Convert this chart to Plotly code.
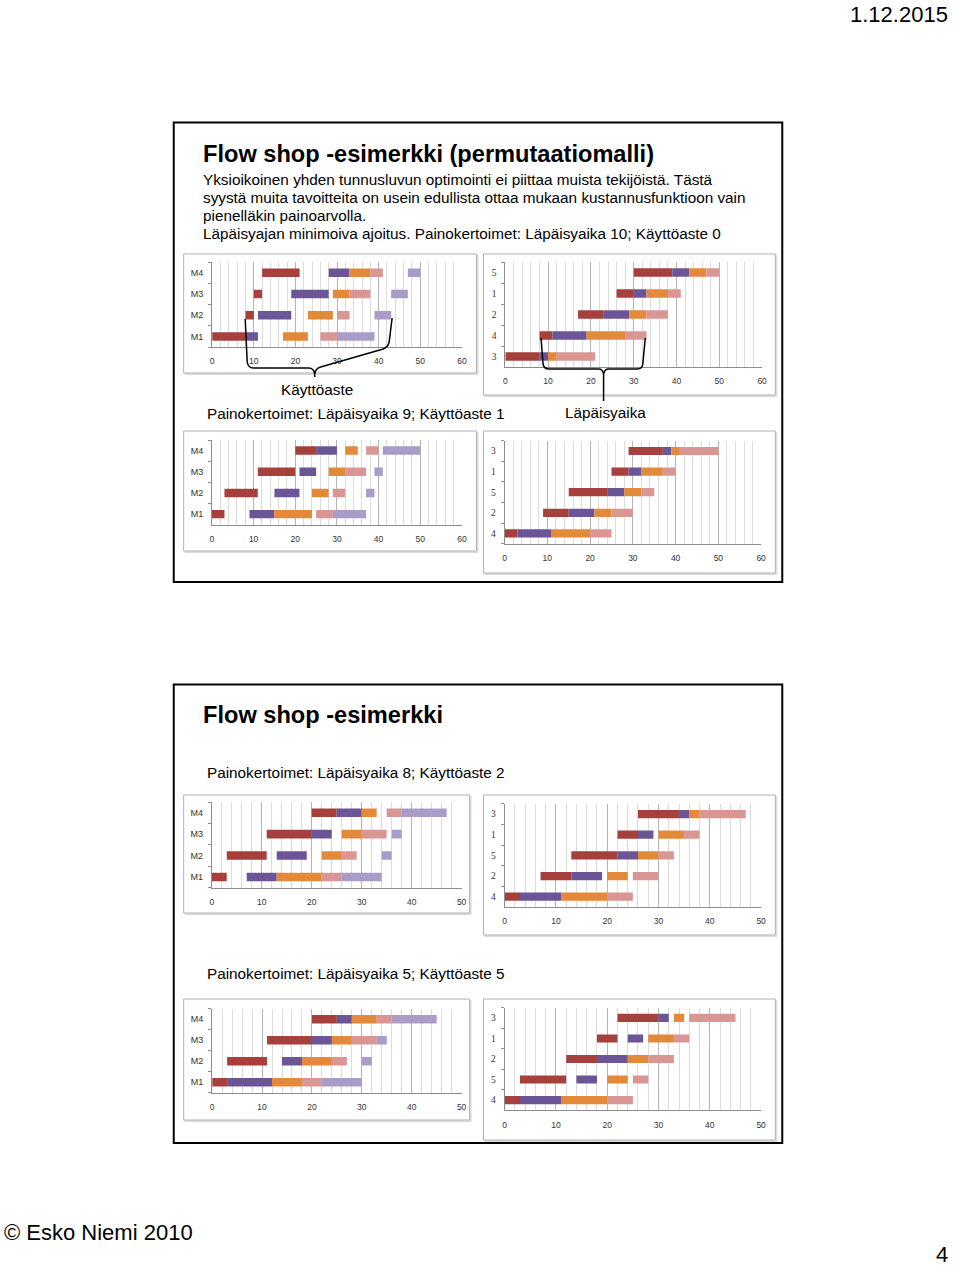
import plotly.graph_objects as go

W, H = 960, 1268

# ---------------- data ----------------
MACHINES = ["M1", "M2", "M3", "M4"]
# processing times per job on M1..M4
PROC_TIMES = {1: [4, 3, 5, 3], 2: [6, 6, 4, 5], 3: [8, 2, 2, 9], 4: [3, 8, 9, 5], 5: [9, 4, 4, 3]}

# scenario 1: Läpäisyaika 10; Käyttöaste 0
SEQ_1 = [3, 4, 2, 1, 5]
STARTS_1 = {3: [0, 8, 10, 12], 4: [8, 11, 19, 28], 2: [17, 23, 29, 33], 1: [26, 30, 33, 38], 5: [30, 39, 43, 47]}
# scenario 2: Läpäisyaika 9; Käyttöaste 1
SEQ_2 = [4, 2, 5, 1, 3]
STARTS_2 = {4: [0, 3, 11, 20], 2: [9, 15, 21, 25], 5: [15, 24, 28, 32], 1: [25, 29, 32, 37], 3: [29, 37, 39, 41]}
# scenario 3: Läpäisyaika 8; Käyttöaste 2
SEQ_3 = [4, 2, 5, 1, 3]
STARTS_3 = {4: [0, 3, 11, 20], 2: [7, 13, 20, 25], 5: [13, 22, 26, 30], 1: [22, 26, 30, 35], 3: [26, 34, 36, 38]}
# scenario 4: Läpäisyaika 5; Käyttöaste 5
SEQ_4 = [4, 5, 2, 1, 3]
STARTS_4 = {4: [0, 3, 11, 20], 5: [3, 14, 20, 25], 2: [12, 18, 24, 28], 1: [18, 24, 28, 33], 3: [22, 30, 33, 36]}

X_MAX_SLIDE1 = 60
X_MAX_SLIDE2 = 50

COLORS = ["#A5403D", "#6B5597", "#E3893A", "#D99694", "#A99CC8"]

# ---------------- layout helpers ----------------
def px(x):
    return x / W


def py(y):
    return 1 - y / H


# chart placement (pixels): kind, seq, starts, xmax, plot x0, x1, y top, y bottom, panel box
CHARTS = [
    ("machine", SEQ_1, STARTS_1, X_MAX_SLIDE1, 211.7, 463.3, 262, 347, (183, 254, 478, 373)),
    ("job", SEQ_1, STARTS_1, X_MAX_SLIDE1, 507, 765.7, 262, 367, (485, 254, 779, 395)),
    ("machine", SEQ_2, STARTS_2, X_MAX_SLIDE1, 211.5, 463.3, 440, 524.7, (183, 431, 478, 551)),
    ("job", SEQ_2, STARTS_2, X_MAX_SLIDE1, 506.3, 764.7, 440.7, 543.7, (485, 431, 779, 573)),
    ("machine", SEQ_3, STARTS_3, X_MAX_SLIDE2, 211.3, 463, 802, 887.7, (183, 795, 471, 913)),
    ("job", SEQ_3, STARTS_3, X_MAX_SLIDE2, 506.3, 764.7, 803.7, 907, (485, 795, 779, 935)),
    ("machine", SEQ_4, STARTS_4, X_MAX_SLIDE2, 211.7, 463, 1008.7, 1092.7, (183, 999, 471, 1120)),
    ("job", SEQ_4, STARTS_4, X_MAX_SLIDE2, 506.3, 764.7, 1007.7, 1110.3, (485, 999, 779, 1140)),
]

fig = go.Figure()
shapes = []
layout_axes = {}

TICK_FONT = dict(family="Liberation Sans", size=8.5, color="#333333")
YTICK_FONT = dict(family="Liberation Sans", size=9, color="#333333")
JOB_TICK_FONT = dict(family="Liberation Serif", size=9.5, color="#333333")
AXIS_COLOR = "#8c8c8c"

for i, (kind, seq, starts, xmax, x0, x1, yt, yb, panel) in enumerate(CHARTS, start=1):
    xa = "x" if i == 1 else f"x{i}"
    ya = "y" if i == 1 else f"y{i}"
    if kind == "machine":
        cats = MACHINES
        for pos, job in enumerate(seq):
            fig.add_trace(go.Bar(
                y=MACHINES, x=PROC_TIMES[job], base=starts[job], orientation="h",
                marker=dict(color=COLORS[pos], line=dict(width=0)), width=0.4,
                xaxis=xa, yaxis=ya, showlegend=False, name=f"Job {job}"))
    else:
        cats = [str(j) for j in seq]
        for m in range(4):
            fig.add_trace(go.Bar(
                y=cats, x=[PROC_TIMES[j][m] for j in seq], base=[starts[j][m] for j in seq],
                orientation="h", marker=dict(color=COLORS[m], line=dict(width=0)), width=0.4,
                xaxis=xa, yaxis=ya, showlegend=False, name=MACHINES[m]))
    xkey = "xaxis" if i == 1 else f"xaxis{i}"
    ykey = "yaxis" if i == 1 else f"yaxis{i}"
    layout_axes[xkey] = dict(
        domain=[px(x0), px(x1)], anchor=ya, range=[0, xmax],
        tickmode="linear", tick0=0, dtick=10,
        showgrid=True, gridcolor="#b5b5b5", gridwidth=1,
        minor=dict(tick0=0, dtick=2, showgrid=True, gridcolor="#dcdcdc", gridwidth=1),
        showline=True, linecolor=AXIS_COLOR, linewidth=1, zeroline=False,
        ticks="", tickfont=TICK_FONT, ticklabelstandoff=6, fixedrange=True)
    layout_axes[ykey] = dict(
        domain=[py(yb), py(yt)], anchor=xa, type="category",
        categoryorder="array", categoryarray=cats, range=[-0.5, len(cats) - 0.5],
        showline=True, linecolor=AXIS_COLOR, linewidth=1,
        ticks="outside", tickson="boundaries", ticklen=3, tickcolor=AXIS_COLOR,
        showgrid=False, zeroline=False,
        tickfont=YTICK_FONT if kind == "machine" else JOB_TICK_FONT,
        ticklabelstandoff=6, fixedrange=True)
    # chart panel border
    l, t, r, b = panel
    shapes.append(dict(type="rect", xref="paper", yref="paper",
                       x0=px(l + 1.5), x1=px(r + 1.5), y0=py(b + 1.5), y1=py(t + 1.5),
                       line=dict(color="#d9d9d9", width=1), fillcolor="#e6e6e6", layer="below"))
    shapes.append(dict(type="rect", xref="paper", yref="paper",
                       x0=px(l), x1=px(r), y0=py(b), y1=py(t),
                       line=dict(color="#b0b0b0", width=1), fillcolor="white", layer="below"))

# slide frames
for (l, t, r, b) in [(173, 122.5, 786, 582), (173, 684.5, 786, 1143)]:
    shapes.append(dict(type="rect", xref="paper", yref="paper",
                       x0=px(l), x1=px(r), y0=py(b), y1=py(t),
                       line=dict(color="black", width=2), fillcolor="rgba(0,0,0,0)", layer="below"))


def path(points_cmds):
    out = []
    for cmd, pts in points_cmds:
        coords = " ".join(f"{px(x):.5f},{py(y):.5f}" for x, y in pts)
        out.append(f"{cmd}{coords}")
    return " ".join(out)


# braces
brace_a = path([("M", [(245, 319)]), ("L", [(247, 362)]), ("Q", [(248, 368), (253, 368)]),
                ("L", [(309, 368)]), ("Q", [(314, 368), (315, 374)]), ("L", [(315, 377)]),
                ("M", [(315, 374)]), ("Q", [(316, 368), (321, 367)]),
                ("L", [(384, 349)]), ("Q", [(389, 347), (390, 342)]), ("L", [(393, 318)])])
brace_b = path([("M", [(543, 338)]), ("L", [(545, 364)]), ("Q", [(546, 369), (551, 369)]),
                ("L", [(601, 369)]), ("Q", [(605, 369), (606, 374)]), ("L", [(606, 401)]),
                ("M", [(606, 374)]), ("Q", [(607, 369), (611, 369)]),
                ("L", [(640, 369)]), ("Q", [(645, 369), (645.5, 364)]), ("L", [(648, 338)])])
for p in (brace_a, brace_b):
    shapes.append(dict(type="path", xref="paper", yref="paper", path=p,
                       line=dict(color="black", width=1.5), layer="above"))

# texts
BODY = 15.3
annotations = []


def text(x, y, s, size=BODY, bold=False, xanchor="left"):
    annotations.append(dict(
        x=px(x), y=py(y), xref="paper", yref="paper", text=f"<b>{s}</b>" if bold else s,
        showarrow=False, xanchor=xanchor, yanchor="middle",
        font=dict(family="Liberation Sans", size=size, color="black")))


text(955, 14, "1.12.2015", size=22, xanchor="right")
text(200, 154, "Flow shop -esimerkki (permutaatiomalli)", size=23.6, bold=True)
text(200, 179, "Yksioikoinen yhden tunnusluvun optimointi ei piittaa muista tekijöistä. Tästä")
text(200, 197, "syystä muita tavoitteita on usein edullista ottaa mukaan kustannusfunktioon vain")
text(200, 215, "pienelläkin painoarvolla.")
text(200, 233.5, "Läpäisyajan minimoiva ajoitus. Painokertoimet: Läpäisyaika 10; Käyttöaste 0")
text(317, 389, "Käyttöaste", xanchor="center")
text(204, 414, "Painokertoimet: Läpäisyaika 9; Käyttöaste 1")
text(608, 412, "Läpäisyaika", xanchor="center")
text(200, 715, "Flow shop -esimerkki", size=23.6, bold=True)
text(204, 772, "Painokertoimet: Läpäisyaika 8; Käyttöaste 2")
text(204, 973, "Painokertoimet: Läpäisyaika 5; Käyttöaste 5")
text(0, 1232, "© Esko Niemi 2010", size=22)
text(955, 1254, "4", size=22, xanchor="right")

fig.update_layout(
    width=W, height=H, margin=dict(l=0, r=0, t=0, b=0),
    paper_bgcolor="white", plot_bgcolor="white",
    barmode="overlay", showlegend=False,
    shapes=shapes, annotations=annotations, **layout_axes)

fig.write_html(
    "out.html",
    config={"displayModeBar": False, "staticPlot": True},
    post_script="document.body.style.margin='0';document.body.style.overflow='hidden';")
